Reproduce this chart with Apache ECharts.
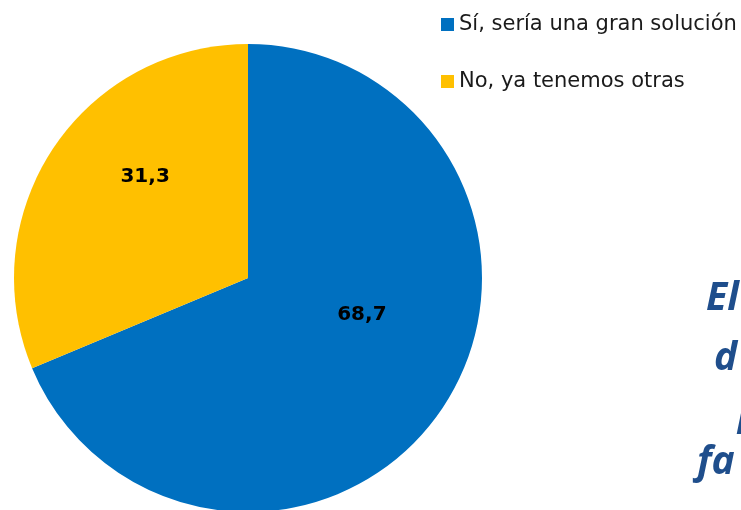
<!DOCTYPE html>
<html>
<head>
<meta charset="utf-8">
<script src="https://cdn.jsdelivr.net/npm/echarts@6/dist/echarts.min.js"></script>
<style>
  html, body { margin: 0; padding: 0; background: #fff; overflow: hidden; }
  #chart { width: 741px; height: 510px; }
</style>
</head>
<body>
<div id="chart"></div>
<script>
const categories = ['Sí, sería una gran solución', 'No, ya tenemos otras'];
const values = [68.7, 31.3];
const colors = ['#0070C0', '#FFC000'];
const labelOffsets = [[14, -30], [-3, -35]];
// fragments of a side text box cut off by the right edge
const sideText = ['El', 'd', 'n', 'fa'];
const sideX = [706, 714, 736, 697];
const sideY = [279, 339, 403, 443];

const chart = echarts.init(document.getElementById('chart'), null, { renderer: 'canvas' });

chart.setOption({
  animation: false,
  legend: {
    orient: 'vertical',
    left: 441,
    top: 14,
    padding: 0,
    itemWidth: 13,
    itemHeight: 13,
    itemGap: 36,
    icon: 'rect',
    textStyle: { fontFamily: 'DejaVu Sans', fontSize: 21, lineHeight: 21, color: '#1a1a1a' },
    data: categories
  },
  graphic: sideText.map((t, i) => ({
    type: 'text',
    x: sideX[i],
    y: sideY[i],
    style: {
      text: t,
      font: 'italic bold 39px "Open Sans"',
      fill: '#1F4E8C'
    }
  })),
  series: [{
    type: 'pie',
    center: [248, 278],
    radius: 234,
    startAngle: 90,
    clockwise: true,
    label: {
      position: 'inside',
      fontFamily: 'DejaVu Sans',
      fontWeight: 'bold',
      fontSize: 20,
      color: '#000',
      formatter: p => p.value.toFixed(1).replace('.', ',')
    },
    itemStyle: { borderWidth: 0 },
    emphasis: { disabled: true },
    data: categories.map((c, i) => ({
      name: c,
      value: values[i],
      itemStyle: { color: colors[i] },
      label: { offset: labelOffsets[i] }
    }))
  }]
});
</script>
</body>
</html>
